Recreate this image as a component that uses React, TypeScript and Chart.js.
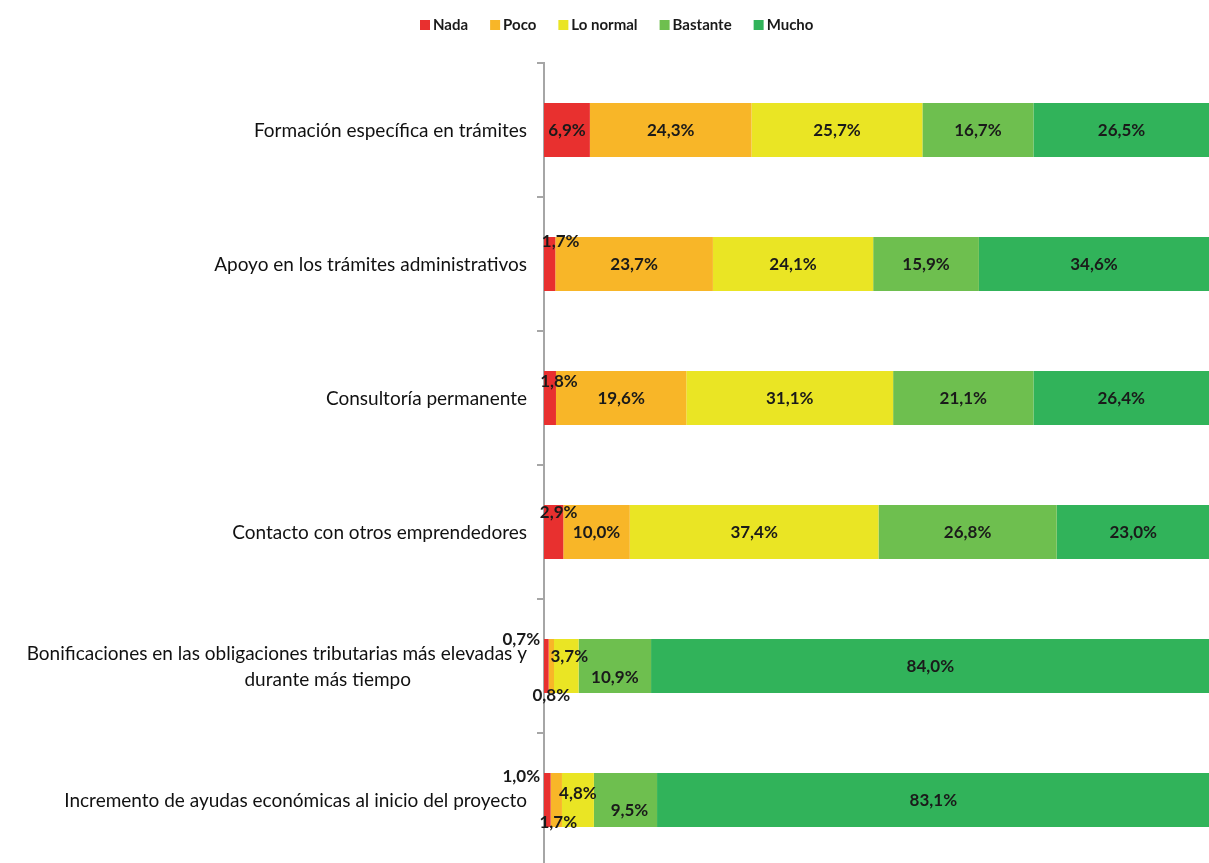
import React, { useEffect, useRef } from "react";
import { Chart, registerables } from "chart.js";

Chart.register(...registerables);

const categories: string[][] = [
  ["Formación específica en trámites"],
  ["Apoyo en los trámites administrativos"],
  ["Consultoría permanente"],
  ["Contacto con otros emprendedores"],
  ["Bonificaciones en las obligaciones tributarias más elevadas y", "durante más tiempo"],
  ["Incremento de ayudas económicas al inicio del proyecto"],
];

const seriesNames = ["Nada", "Poco", "Lo normal", "Bastante", "Mucho"];
const nada = [6.9, 1.7, 1.8, 2.9, 0.7, 1.0];
const poco = [24.3, 23.7, 19.6, 10.0, 0.8, 1.7];
const loNormal = [25.7, 24.1, 31.1, 37.4, 3.7, 4.8];
const bastante = [16.7, 15.9, 21.1, 26.8, 10.9, 9.5];
const mucho = [26.5, 34.6, 26.4, 23.0, 84.0, 83.1];

const seriesValues = [nada, poco, loNormal, bastante, mucho];
const seriesColors = ["#E8302F", "#F8B628", "#EAE524", "#6EBF4F", "#31B35A"];

// label nudges (px) for small segments: key "row-series"
const labelNudges: Record<string, { dx: number; dy: number }> = {
  "1-0": { dx: 11, dy: -23 },
  "2-0": { dx: 9, dy: -17 },
  "3-0": { dx: 5, dy: -20 },
  "4-0": { dx: -25, dy: -27 },
  "4-1": { dx: 0, dy: 29 },
  "4-2": { dx: 3, dy: -10 },
  "4-3": { dx: 0, dy: 11 },
  "5-0": { dx: -26, dy: -24 },
  "5-1": { dx: 2, dy: 22 },
  "5-2": { dx: 0, dy: -7 },
  "5-3": { dx: 4, dy: 10 },
};

const FONT = "Lato, 'Open Sans', sans-serif";

const customDraw = {
  id: "customDraw",
  afterDraw(chart: any) {
    const ctx = chart.ctx;
    const area = chart.chartArea;
    ctx.save();
    // legend
    ctx.font = `bold 15px ${FONT}`;
    ctx.textBaseline = "middle";
    ctx.textAlign = "left";
    let lx = 420;
    const ly = 25;
    seriesNames.forEach((n, i) => {
      ctx.fillStyle = seriesColors[i];
      ctx.fillRect(lx, ly - 5, 10, 10);
      ctx.fillStyle = "#1a1a1a";
      ctx.fillText(n, lx + 13, ly);
      lx += 13 + ctx.measureText(n).width + 22;
    });
    // category labels
    const yScale = chart.scales.y;
    ctx.font = `19px ${FONT}`;
    ctx.fillStyle = "#111111";
    ctx.textAlign = "right";
    categories.forEach((lines, i) => {
      const cy = yScale.getPixelForValue(i);
      if (lines.length === 1) {
        ctx.fillText(lines[0], area.left - 17, cy + 1);
      } else {
        ctx.fillText(lines[0], area.left - 17, cy - 12);
        ctx.fillText(lines[1], area.left - 133, cy + 14);
      }
    });
    // data labels
    ctx.font = `bold 17px ${FONT}`;
    ctx.textAlign = "center";
    ctx.fillStyle = "#1a1a1a";
    seriesValues.forEach((vals, si) => {
      const meta = chart.getDatasetMeta(si);
      vals.forEach((v, ri) => {
        const el: any = meta.data[ri];
        if (!el) return;
        const cx = (el.x + el.base) / 2;
        const nudge = labelNudges[`${ri}-${si}`] || { dx: 0, dy: 0 };
        const text = v.toFixed(1).replace(".", ",") + "%";
        ctx.fillText(text, cx + nudge.dx, el.y + 1 + nudge.dy);
      });
    });
    ctx.restore();
  },
};

export default function App() {
  const ref = useRef<HTMLCanvasElement>(null);
  useEffect(() => {
    const canvas = ref.current!;
    const chart = new Chart(canvas, {
      type: "bar",
      data: {
        labels: categories.map((c) => c.join(" ")),
        datasets: seriesNames.map((n, i) => ({
          label: n,
          data: seriesValues[i],
          backgroundColor: seriesColors[i],
          borderWidth: 0,
          barPercentage: 0.403,
          categoryPercentage: 1,
        })),
      },
      options: {
        indexAxis: "y",
        responsive: false,
        animation: false,
        devicePixelRatio: 1,
        layout: { padding: { top: 63, bottom: 1, left: 0, right: 0 } },
        plugins: {
          legend: { display: false },
          tooltip: { enabled: false },
        },
        scales: {
          x: { stacked: true, min: 0, max: 100, display: false },
          y: {
            stacked: true,
            afterFit: (s: any) => {
              s.width = 544;
            },
            ticks: { display: false },
            border: { color: "#A6A6A6", width: 2 },
            grid: {
              drawOnChartArea: false,
              tickLength: 7,
              color: "#A6A6A6",
              lineWidth: 2,
              offset: true,
            },
          },
        },
      } as any,
      plugins: [customDraw],
    });
    return () => chart.destroy();
  }, []);
  return (
    <div style={{ position: "fixed", left: 0, top: 0, width: 1209, height: 868, background: "#fff" }}>
      <canvas ref={ref} width={1209} height={868} style={{ display: "block", width: 1209, height: 868 }} />
    </div>
  );
}
